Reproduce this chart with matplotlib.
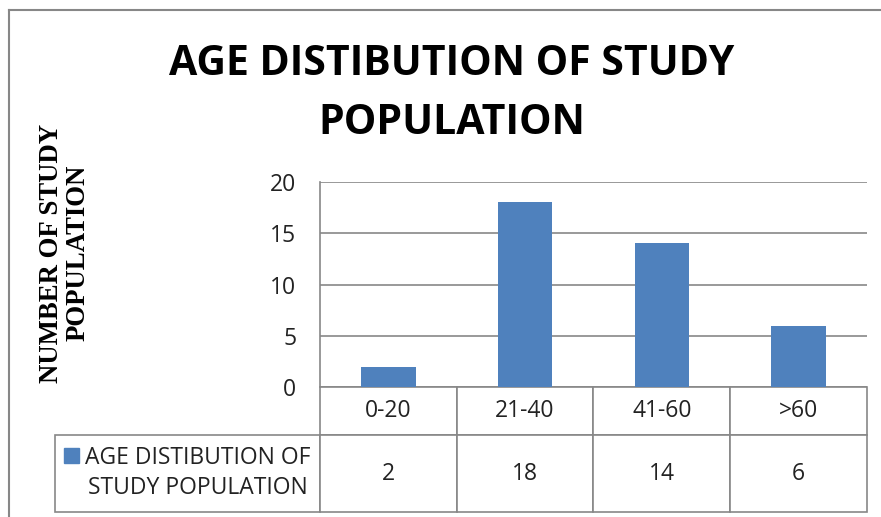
import matplotlib.pyplot as plt
from matplotlib.lines import Line2D
from matplotlib.patches import Rectangle
from matplotlib.table import Table

# data
categories = ["0-20", "21-40", "41-60", ">60"]
counts = [2, 18, 14, 6]
series_name = "AGE DISTIBUTION OF\nSTUDY POPULATION"
title = "AGE DISTIBUTION OF STUDY\nPOPULATION"
ylabel = "NUMBER OF STUDY\nPOPULATION"
yticks = [0, 5, 10, 15, 20]

W, H = 881, 517
BLUE = "#4F81BD"
GRID = "#878787"
SANS = "Open Sans"
FS = 16.5


def fx(px):
    return px / W


def fy(py):
    return 1 - py / H


fig = plt.figure(figsize=(W / 100, H / 100), dpi=100)

# plot area in pixels: x 320..867, y 182..387
ax = fig.add_axes([fx(320), fy(387), fx(867) - fx(320), fy(182) - fy(387)])
x = range(len(categories))
ax.bar(x, counts, width=0.4, color=BLUE, zorder=3)
ax.set_xlim(-0.5, len(categories) - 0.5)
ax.set_ylim(0, 20)
ax.set_yticks(yticks)
ax.set_xticks([])
ax.grid(True, axis="y", color=GRID, lw=1.2, zorder=0)
for s in ["top", "right", "bottom"]:
    ax.spines[s].set_visible(False)
ax.spines["left"].set_color(GRID)
ax.spines["left"].set_linewidth(1.2)
ax.tick_params(axis="y", length=0, pad=17, labelsize=FS, labelcolor="#222222")
for lab in ax.get_yticklabels():
    lab.set_family(SANS)

# data table below the plot (column 0 holds the legend key cell)
ph = 387 - 182
tbl = Table(ax, bbox=[(55 - 320) / 547, -(512 - 387) / ph, (867 - 55) / 547, (512 - 387) / ph])
for j, c in enumerate(categories):
    tbl.add_cell(0, j + 1, width=137, height=48, text=c, loc="center")
tbl.add_cell(1, 0, width=265, height=77, text="", loc="center")
for j, v in enumerate(counts):
    tbl.add_cell(1, j + 1, width=137, height=77, text=str(v), loc="center")
tbl.auto_set_font_size(False)
tbl.set_fontsize(FS)
for cell in tbl.get_celld().values():
    cell.set_edgecolor(GRID)
    cell.set_linewidth(1.2)
    cell.get_text().set_family(SANS)
    cell.get_text().set_color("#222222")
ax.add_table(tbl)
tbl.set_clip_on(False)

# legend key inside the row label cell
fig.add_artist(Rectangle((fx(64), fy(463)), fx(15), fy(448) - fy(463),
                         transform=fig.transFigure, color=BLUE))
fig.text(fx(198), fy(473), series_name, ha="center", va="center",
         multialignment="center", fontsize=FS, family=SANS, color="#222222",
         linespacing=1.35)

# title and y label
fig.text(fx(452), fy(94), title, ha="center", va="center", fontsize=29.5,
         fontweight="bold", family=SANS, linespacing=1.58)
fig.text(fx(65), fy(253), ylabel, ha="center", va="center", rotation=90,
         fontsize=19.3, fontweight="bold", family="Liberation Serif",
         linespacing=1.1)

# chart frame (only top and left visible)
fig.add_artist(Line2D([fx(9), fx(9)], [0, fy(10)], color=GRID, lw=1.5))
fig.add_artist(Line2D([fx(9), 1], [fy(10), fy(10)], color=GRID, lw=1.5))

fig.savefig("out.png", dpi=100)
